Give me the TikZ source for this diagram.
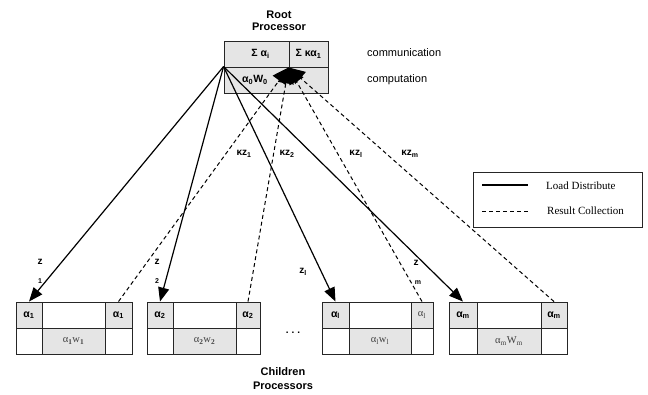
\documentclass[tikz,border=0pt]{standalone}
\usepackage{fontspec}
\setmainfont{Liberation Sans}
\newfontfamily\serifff{Liberation Serif}
\usetikzlibrary{arrows.meta}
\newcommand\kidbox[8]{%
  \pgfmathsetmacro\kwa{#3-#2}\pgfmathsetmacro\kwb{#4-#3}\pgfmathsetmacro\kwc{#5-#4}%
  \pgfmathsetmacro\kca{(#2+#3)/2}\pgfmathsetmacro\kcb{(#3+#4)/2}\pgfmathsetmacro\kcc{(#4+#5)/2}%
  \node[gcell,minimum width=\kwa pt] (#1tl) at (\kca,315) {#6};
  \node[wcell,minimum width=\kwb pt] (#1tm) at (\kcb,315) {};
  \node[gcell,minimum width=\kwc pt] (#1tr) at (\kcc,315) {#7};
  \node[wcell,minimum width=\kwa pt] (#1bl) at (\kca,341) {};
  \node[gcell,minimum width=\kwb pt,font=\serifff\fontsize{10.5}{12}\selectfont,text=black!75] (#1bm) at (\kcb,341) {#8};
  \node[wcell,minimum width=\kwc pt] (#1br) at (\kcc,341) {};
}
\newcommand\sbb[1]{\textsubscript{\bfseries #1}}
\begin{document}
\begin{tikzpicture}[x=1pt,y=-1pt,
  cell/.style={draw=black!85, line width=0.9pt, inner sep=0pt, minimum height=26pt, font=\bfseries\fontsize{10.5}{12}\selectfont},
  gcell/.style={cell, fill=black!10},
  wcell/.style={cell, fill=white},
  ld/.style={line width=1.2pt, -{Triangle[length=14pt,width=11pt]}},
  rc/.style={line width=1pt, dash pattern=on 4pt off 3pt, -{Triangle[length=16pt,width=16pt]}},
  lab/.style={font=\bfseries\fontsize{10}{12}\selectfont, inner sep=0pt},
  sublab/.style={font=\bfseries\fontsize{7}{8}\selectfont, inner sep=0pt},
  title/.style={font=\bfseries\fontsize{11}{13}\selectfont, align=center, inner sep=0pt},
  side/.style={font=\fontsize{11}{13}\selectfont, anchor=west, inner sep=0pt},
  legtext/.style={font=\serifff\fontsize{11}{13}\selectfont, anchor=west, inner sep=0pt}
]
\useasboundingbox (0,0) rectangle (648,394);

% root processor
\node[title] (roottitle) at (279,20.5) {Root\\[-1pt]Processor};
\node[gcell, minimum width=65pt] (rtl) at (256.5,54) {\hspace{8pt}Σ α\textsubscript{i}};
\node[gcell, minimum width=39pt] (rtr) at (308.5,54) {Σ κα\textsubscript{1}};
\node[gcell, minimum width=104pt] (rb) at (276,80) {};
\node[lab, font=\bfseries\fontsize{10.5}{12}\selectfont] (rbt) at (255,80) {α\textsubscript{0}W\textsubscript{0}};
\node[side] (comm) at (367,53) {communication};
\node[side] (comp) at (367,80) {computation};

% children
\kidbox{a}{16}{42}{105}{132}{α\textsubscript{1}}{α\textsubscript{1}}{α\sbb{1}w\sbb{1}}
\kidbox{b}{147}{173}{236}{260}{α\textsubscript{2}}{α\textsubscript{2}}{α\sbb{2}w\sbb{2}}
\kidbox{c}{322}{349}{411}{433}{α\textsubscript{l}}{{\serifff\mdseries\color{black!75}α\textsubscript{l}}}{α\textsubscript{l}w\textsubscript{l}}
\kidbox{d}{449}{477}{541}{567}{α\textsubscript{m}}{α\textsubscript{m}}{α\textsubscript{m}W\textsubscript{m}}

\node[font=\bfseries\fontsize{10}{12}\selectfont] (dots) at (293,333) {.\hspace{3pt}.\hspace{3pt}.};
\node[title, align=center] (kidtitle) at (283,379) {Children\\[1pt]Processors};

% load distribution
\draw[ld] (rb.north west) -- (atl.north);
\draw[ld] (rb.north west) -- (btl.north);
\draw[ld] (rb.north west) -- (ctl.north);
\draw[ld] (rb.north west) -- (dtl.north);

% result collection
\draw[rc] (atr.north) -- (rtr.south west);
\draw[rc] (btr.north) -- (rtr.south west);
\draw[rc] (ctr.north) -- (rtr.south west);
\draw[rc] (dtr.north) -- (rtr.south west);

% labels
\node[lab] (z1) at (40,262) {z};
\node[sublab] (z1s) at (40,281) {1};
\node[lab] (z2) at (157,262) {z};
\node[sublab] (z2s) at (157,281) {2};
\node[lab] (zl) at (303,272) {z\textsubscript{l}};
\node[lab] (zm) at (416,263) {z};
\node[sublab] (zms) at (418,283) {m};
\node[lab] (kz1) at (244,154) {κz\textsubscript{1}};
\node[lab] (kz2) at (287,154) {κz\textsubscript{2}};
\node[lab] (kzl) at (356,154) {κz\textsubscript{l}};
\node[lab] (kzm) at (410,154) {κz\textsubscript{m}};

% legend
\node[draw=black!85, line width=0.8pt, minimum width=169pt, minimum height=55pt, inner sep=0pt] (legend) at (558,199.5) {};
\coordinate (l1a) at (482,185); \coordinate (l1b) at (528,185);
\coordinate (l2a) at (482,211); \coordinate (l2b) at (528,211);
\draw[line width=1.2pt] (l1a) -- (l1b);
\draw[line width=1pt, dash pattern=on 4pt off 3pt] (l2a) -- (l2b);
\node[legtext] (lt1) at (546,186) {Load Distribute};
\node[legtext] (lt2) at (547,211) {Result Collection};
\end{tikzpicture}
\end{document}
